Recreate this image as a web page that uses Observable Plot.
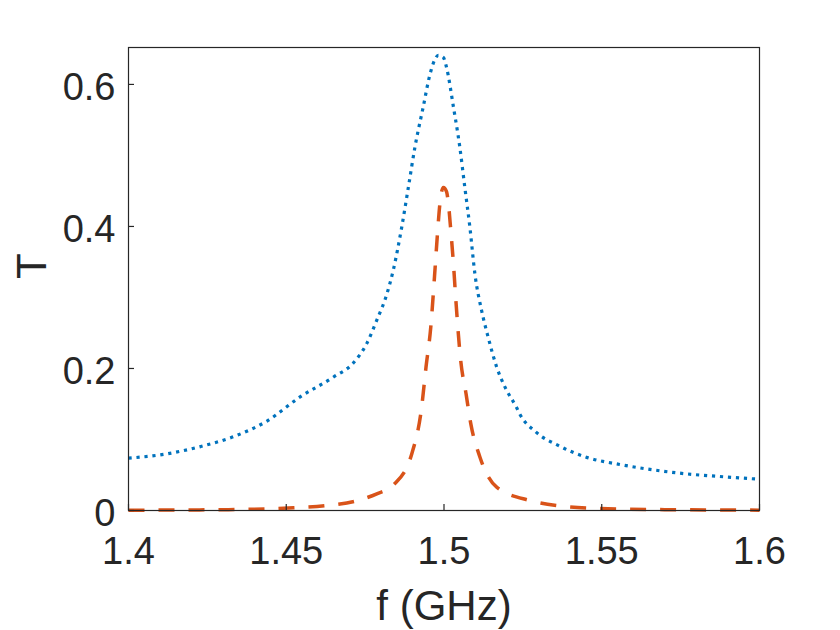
<!DOCTYPE html>
<html>
<head>
<meta charset="utf-8">
<script src="https://cdn.jsdelivr.net/npm/d3@7"></script>
<script src="https://cdn.jsdelivr.net/npm/@observablehq/plot@0.6"></script>
<style>
  html, body { margin: 0; padding: 0; background: #ffffff; }
</style>
</head>
<body>
<div id="chart"></div>
<script>
// Blue dotted series (f in GHz, T)
const blueF = [1.400, 1.4122, 1.4228, 1.4333, 1.4439, 1.4544, 1.465, 1.4713, 1.4755, 1.4787, 1.4819, 1.484, 1.4866, 1.4887, 1.4908, 1.4934, 1.4956, 1.4970, 1.4982, 1.4998, 1.5008, 1.5030, 1.5050, 1.5066, 1.5082, 1.5098, 1.5119, 1.5140, 1.5167, 1.5193, 1.5230, 1.5240, 1.5290, 1.5365, 1.5451, 1.5557, 1.5662, 1.5768, 1.5873, 1.6000];
const blueT = [0.0737, 0.0798, 0.090, 0.104, 0.126, 0.160, 0.188, 0.208, 0.235, 0.268, 0.305, 0.340, 0.399, 0.455, 0.512, 0.568, 0.615, 0.634, 0.641, 0.638, 0.624, 0.568, 0.512, 0.455, 0.399, 0.333, 0.282, 0.244, 0.202, 0.174, 0.145, 0.136, 0.111, 0.091, 0.075, 0.0648, 0.0573, 0.0516, 0.0479, 0.0440];

// Orange dashed series
const orangeF = [1.400, 1.4158, 1.4317, 1.4523, 1.4629, 1.4734, 1.4787, 1.4840, 1.4898, 1.4929, 1.4943, 1.4958, 1.4970, 1.4980, 1.4987, 1.4998, 1.5008, 1.5014, 1.5022, 1.5030, 1.5037, 1.5053, 1.5070, 1.5085, 1.5114, 1.5167, 1.5272, 1.5377, 1.5480, 1.5700, 1.6000];
const orangeT = [0.0004, 0.0007, 0.0012, 0.0038, 0.007, 0.015, 0.0235, 0.036, 0.080, 0.145, 0.202, 0.258, 0.330, 0.394, 0.432, 0.455, 0.449, 0.432, 0.392, 0.347, 0.300, 0.211, 0.164, 0.122, 0.075, 0.033, 0.014, 0.006, 0.003, 0.0012, 0.0005];

const xTicks = [1.4, 1.45, 1.5, 1.55, 1.6];
const yTicks = [0, 0.2, 0.4, 0.6];
const xLabel = "f (GHz)";
const yLabel = "T";

const blue = blueF.map((f, i) => ({f, T: blueT[i]}));
const orange = orangeF.map((f, i) => ({f, T: orangeT[i]}));

const W = 840, H = 630;
const mL = 128, mR = 81, mT = 47, mB = 120;
const frameW = W - mL - mR, frameH = H - mT - mB;
const axisColor = "#262626";
const font = "'Liberation Sans', Arial, Helvetica, sans-serif";

const chart = Plot.plot({
  width: W,
  height: H,
  marginLeft: mL,
  marginRight: mR,
  marginTop: mT,
  marginBottom: mB,
  x: {domain: [1.4, 1.6]},
  y: {domain: [0, 0.652]},
  style: {fontFamily: font, background: "#ffffff", color: axisColor, overflow: "visible"},
  marks: [
    Plot.line(orange, {x: "f", y: "T", stroke: "#D95319", strokeWidth: 3.5, strokeDasharray: "16,14", strokeLinecap: "butt", curve: "monotone-x"}),
    Plot.line(blue, {x: "f", y: "T", stroke: "#0072BD", strokeWidth: 3.2, strokeDasharray: "3.2,4.8", strokeLinecap: "butt", curve: "monotone-x"}),
    Plot.frame({stroke: axisColor, strokeWidth: 1.2}),
    Plot.tickX(xTicks, {x: d => d, insetTop: frameH - 6, stroke: axisColor, strokeWidth: 1.2}),
    Plot.tickY(yTicks, {y: d => d, insetRight: frameW - 6, stroke: axisColor, strokeWidth: 1.2}),
    Plot.axisX({ticks: xTicks, tickSize: 0, tickPadding: 27, fontSize: 38, tickFormat: d => String(d), label: null, fill: axisColor}),
    Plot.axisY({ticks: yTicks, tickSize: 0, tickPadding: 13, fontSize: 38, dy: 3, tickFormat: d => String(d), label: null, fill: axisColor}),
    Plot.text([xLabel], {frameAnchor: "bottom", dy: 109, fontSize: 42, lineAnchor: "bottom", text: d => d, fill: axisColor}),
    Plot.text([yLabel], {frameAnchor: "left", dx: -83, rotate: -90, fontSize: 42, lineAnchor: "bottom", text: d => d, fill: axisColor})
  ]
});

document.getElementById("chart").appendChild(chart);
</script>
</body>
</html>
